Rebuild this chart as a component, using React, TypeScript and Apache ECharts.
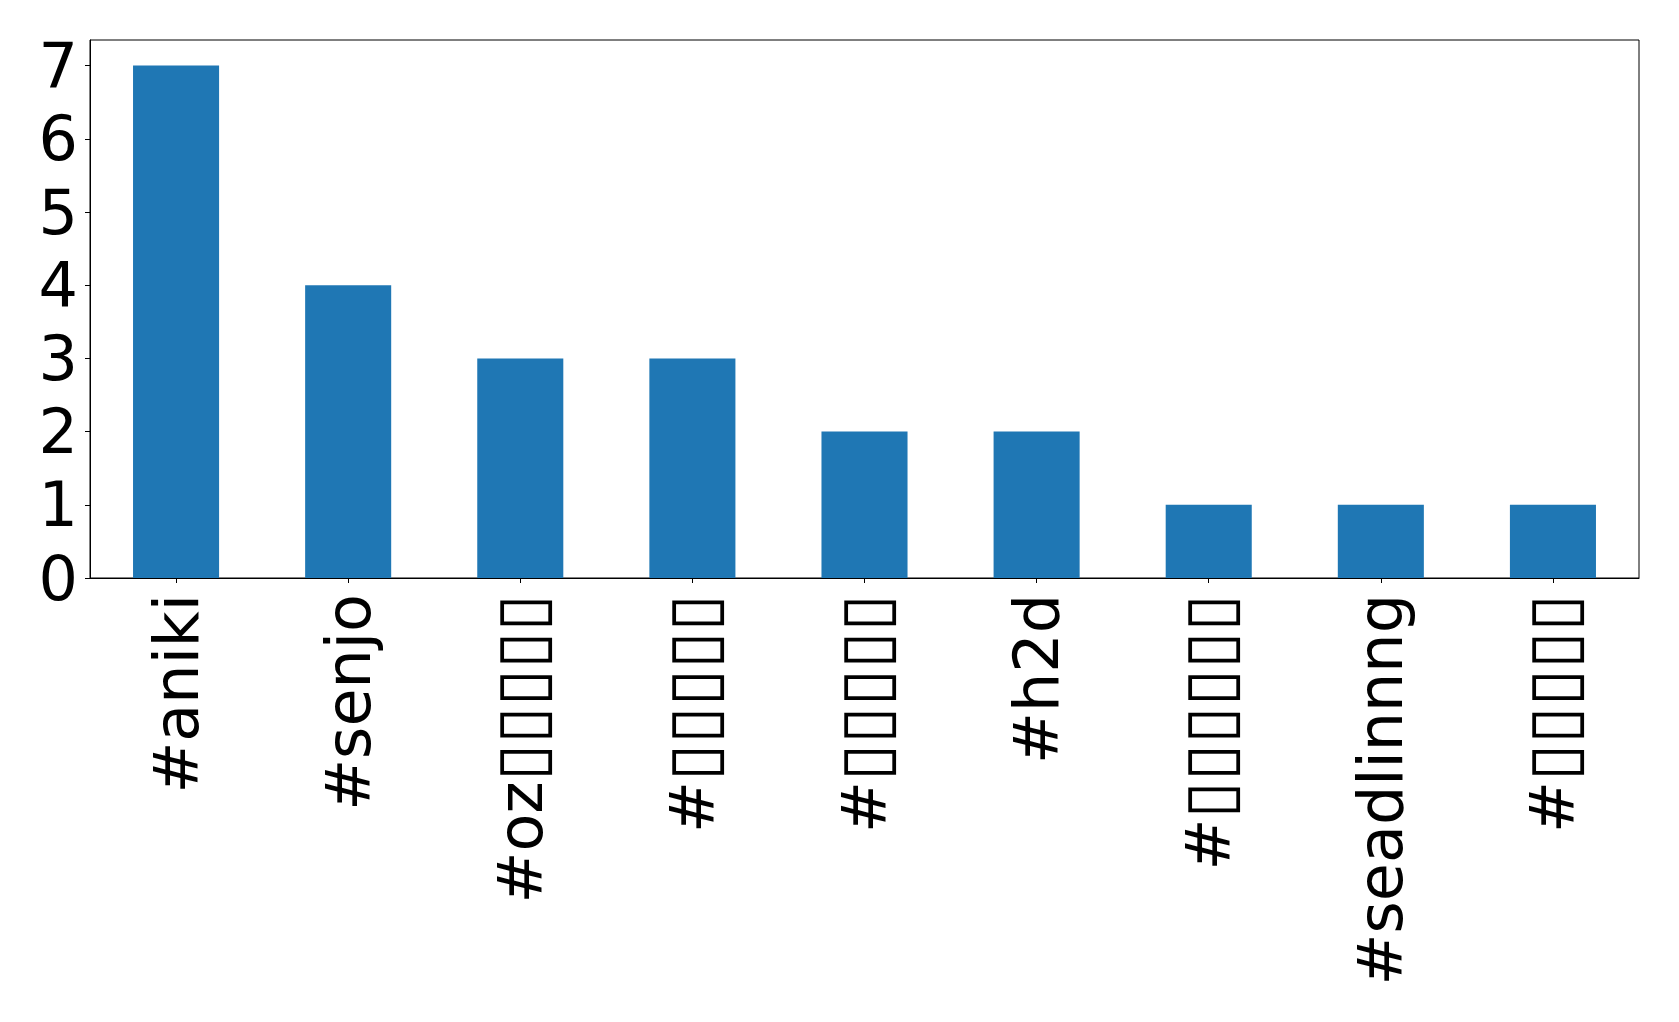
import React, { useEffect, useRef } from "react";
import * as echarts from "echarts";

const categories: string[] = [
  "#aniki",
  "#senjo",
  "#oz▯▯▯▯▯",
  "#▯▯▯▯▯",
  "#▯▯▯▯▯",
  "#h2d",
  "#▯▯▯▯▯▯",
  "#seadlinnng",
  "#▯▯▯▯▯",
];
const counts: number[] = [7, 4, 3, 3, 2, 2, 1, 1, 1];
const yTicks: number[] = [0, 1, 2, 3, 4, 5, 6, 7];

export default function App() {
  const ref = useRef<HTMLDivElement>(null);
  useEffect(() => {
    if (!ref.current) return;
    const chart = echarts.init(ref.current, null, { renderer: "svg" });
    const font = "DejaVu Sans";
    const fs = 62;
    chart.setOption({
      animation: false,
      backgroundColor: "#ffffff",
      grid: {
        left: 90,
        right: 40,
        top: 40,
        bottom: 444,
        show: true,
        borderColor: "#000000",
        borderWidth: 1,
        backgroundColor: "transparent",
        outerBoundsMode: "none",
        containLabel: false,
      },
      xAxis: {
        type: "category",
        data: categories,
        boundaryGap: true,
        axisLine: { show: true, lineStyle: { color: "#000", width: 1 } },
        axisTick: { show: true, alignWithLabel: true, length: 5, lineStyle: { color: "#000" } },
        axisLabel: {
          interval: 0,
          rotate: 90,
          margin: 16,
          fontFamily: font,
          fontSize: fs,
          color: "#000",
          formatter: (v: string) => {
            const i = v.indexOf("▯");
            if (i < 0) return "{t|" + v + "}";
            return "{t|" + v.slice(0, i) + "}{b|" + v.slice(i) + "}";
          },
          rich: {
            t: { fontFamily: font, fontSize: fs, color: "#000", verticalAlign: "middle" },
            b: { fontFamily: font, fontSize: 68, color: "#000", verticalAlign: "middle" },
          },
        },
        splitLine: { show: false },
      },
      yAxis: {
        type: "value",
        min: 0,
        max: 7.35,
        interval: 1,
        axisLine: { show: true, lineStyle: { color: "#000", width: 1 } },
        axisTick: { show: true, length: 5, lineStyle: { color: "#000" } },
        axisLabel: {
          showMaxLabel: false,
          margin: 12,
          fontFamily: font,
          fontSize: fs,
          color: "#000",
          formatter: (v: number) => (yTicks.includes(v) ? String(v) : ""),
        },
        splitLine: { show: false },
      },
      series: [
        {
          type: "bar",
          data: counts,
          barWidth: "50%",
          itemStyle: { color: "#1f77b4" },
        },
      ],
    });
    return () => chart.dispose();
  }, []);
  return (
    <div
      ref={ref}
      style={{ position: "fixed", left: 0, top: 0, width: 1679, height: 1022, background: "#fff" }}
    />
  );
}
